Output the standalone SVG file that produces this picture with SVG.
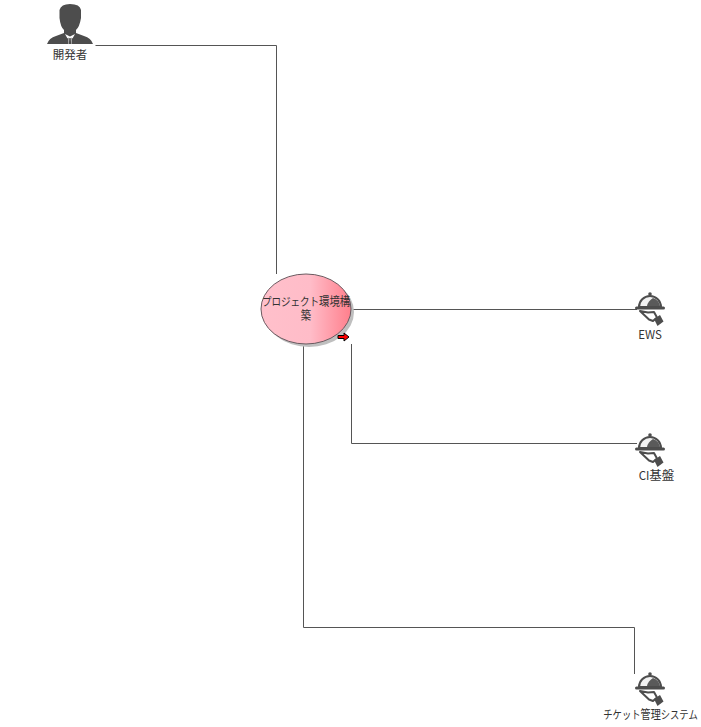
<svg xmlns="http://www.w3.org/2000/svg" width="701" height="727" viewBox="0 0 701 727">
<defs>
<linearGradient id="ug" x1="0" y1="0" x2="1" y2="0">
<stop offset="0" stop-color="#ffc0cb"/><stop offset="0.55" stop-color="#ffbcc8"/><stop offset="1" stop-color="#ff7f8c"/>
</linearGradient>
<g id="cloche">
<circle cx="0" cy="-15" r="1.800" fill="#4d4d4d"/>
<path d="M-11,-2 A11,11 0 0 1 11,-2 Z" fill="#f2f2f2" stroke="#4d4d4d" stroke-width="2"/>
<path d="M-3,-3 Q-2,-8 3,-11 A10,10 0 0 1 10,-3 Z" fill="#5a5a5a"/>
<rect x="-15" y="-2.500" width="30" height="3" rx="1.500" fill="#4d4d4d"/>
<path d="M-10,2 L-2,3.500 L4,3 L7,8.500 L3,12 L-1,10.500 Z" fill="#fff" stroke="#4d4d4d" stroke-width="2" stroke-linejoin="round"/>
<path d="M4,10 L10,6 L13.500,12.500 L7.500,17 Z" fill="#4d4d4d"/>
</g>
</defs>
<style>
text{font-family:"Noto Sans CJK JP","Liberation Sans",sans-serif;font-size:11.5px;fill:#333;text-anchor:middle}
.k{font-size:12.5px}
.c{fill:none;stroke:#555;stroke-width:1}
</style>
<rect width="701" height="727" fill="#fff"/>
<g id="connectors">
<path class="c" d="M95.500,45.500H276.500V274"/>
<path class="c" d="M351,309.500H637"/>
<path class="c" d="M351.500,344V443.500H637"/>
<path class="c" d="M303.500,344V627.500H634.500V674"/>
</g>
<g id="dev">
<path d="M59.500,10 Q61,4 70,4 Q80,4 81,10 L81,18 Q79.500,27 76,30 L76,33 L84,36 Q91,38 93,44 L47,44 Q49,38 56,36 L64,33 L64,30 Q60.500,27 59.500,18 Z" fill="#4d4d4d"/>
<path d="M65,34 L70,36.500 L75,34 L72.500,38.500 L71.500,37.500 L71.500,44 L68.500,44 L68.500,37.500 L67.500,38.500 Z" fill="#fff"/>
<path d="M69.300,38 h1.400 l0.500,6 h-2.400 z" fill="#4d4d4d"/>
<text x="70" y="58.500">開発者</text>
</g>
<g id="usecase">
<ellipse cx="309" cy="312" rx="45" ry="35" fill="#bfbfbf"/>
<ellipse cx="306" cy="309" rx="45" ry="35" fill="url(#ug)" stroke="#6b5a60" stroke-width="1"/>
<text transform="translate(306 306) scale(.83 1)" x="0" y="0">プロジェクト<tspan class="k">環境構</tspan><tspan class="k" x="0" dy="14">築</tspan></text>
<path d="M338,335.500h6v-2.500l5,4l-5,4v-2.500h-6z" fill="#f00" stroke="#000" stroke-width="1"/>
</g>
<g id="ews">
<use href="#cloche" x="650" y="309"/>
<text x="650" y="338.500">EWS</text>
</g>
<g id="ci">
<use href="#cloche" x="650" y="450"/>
<text x="656.500" y="479.500">CI<tspan class="k">基盤</tspan></text>
</g>
<g id="ticket">
<use href="#cloche" x="650" y="689"/>
<text transform="translate(650.500 718.500) scale(.81 1)" x="0" y="0">チケット<tspan class="k">管理</tspan>システム</text>
</g>
</svg>
